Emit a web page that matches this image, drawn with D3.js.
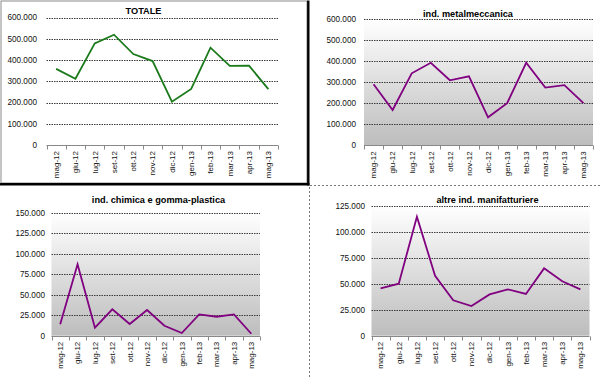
<!DOCTYPE html>
<html>
<head>
<meta charset="utf-8">
<script src="https://cdn.jsdelivr.net/npm/d3@7"></script>
<style>
  body { margin: 0; background: #fff; }
  svg { display: block; font-family: "Liberation Sans", Arial, sans-serif; }
</style>
</head>
<body>
<svg id="chart" width="600" height="377"></svg>
<script>
// Months on the x axis (same for all four charts)
var months = ["mag-12", "giu-12", "lug-12", "set-12", "ott-12", "nov-12",
              "dic-12", "gen-13", "feb-13", "mar-13", "apr-13", "mag-13"];

// Series values
var totale = [358000, 312000, 478000, 519000, 428000, 395000,
              204000, 264000, 458000, 372000, 373000, 263000];
var metalmeccanica = [290000, 168000, 342000, 392000, 309000, 328000,
                      133000, 200000, 392000, 274000, 286000, 200000];
var chimica = [13900, 87200, 9800, 32200, 14300, 31400,
               12200, 3300, 26100, 23200, 26100, 2400];
var altre = [45600, 50100, 114700, 57800, 34100, 28600,
             39800, 44700, 40200, 64900, 52400, 44700];

// Tick values of each y axis
var ticksBig = [0, 100000, 200000, 300000, 400000, 500000, 600000];
var ticksChim = [0, 25000, 50000, 75000, 100000, 125000, 150000];
var ticksAltre = [0, 25000, 50000, 75000, 100000, 125000];

var titles = ["TOTALE", "ind. metalmeccanica", "ind. chimica e gomma-plastica", "altre ind. manifatturiere"];

var svg = d3.select("#chart");

// grey gradient behind the plot areas
var grad = svg.append("defs").append("linearGradient")
    .attr("id", "bg").attr("x1", 0).attr("y1", 0).attr("x2", 0).attr("y2", 1);
grad.append("stop").attr("offset", "0%").attr("stop-color", "#ffffff");
grad.append("stop").attr("offset", "100%").attr("stop-color", "#bdbdbd");

// box around the first chart
svg.append("rect").attr("x", 1).attr("y", 1).attr("width", 306).attr("height", 182)
    .attr("fill", "none").attr("stroke", "#8a8a8a").attr("stroke-width", 1);
svg.append("line").attr("x1", 308.3).attr("x2", 308.3).attr("y1", 0.5).attr("y2", 185.5)
    .attr("stroke", "#000").attr("stroke-width", 2.4);
svg.append("line").attr("x1", 0).attr("x2", 309.5).attr("y1", 184.2).attr("y2", 184.2)
    .attr("stroke", "#000").attr("stroke-width", 2.4);

// dotted separators
svg.append("line").attr("x1", 310).attr("x2", 600).attr("y1", 185.5).attr("y2", 185.5)
    .attr("stroke", "#777").attr("stroke-dasharray", "2,2");
svg.append("line").attr("x1", 309.5).attr("x2", 309.5).attr("y1", 187).attr("y2", 377)
    .attr("stroke", "#777").attr("stroke-dasharray", "2,2");

function drawChart(opt) {
    var g = svg.append("g");
    var x = d3.scaleBand().domain(months).range([opt.left, opt.right]);
    var y = d3.scaleLinear().domain([0, opt.max]).range([opt.bottom, opt.top]);

    if (opt.fill) {
        g.append("rect")
            .attr("x", opt.left).attr("y", opt.top)
            .attr("width", opt.right - opt.left).attr("height", opt.bottom - opt.top)
            .attr("fill", "url(#bg)");
    }

    // gridlines
    g.selectAll(".grid")
        .data(opt.ticks.filter(function (d) { return d > 0; }))
        .enter().append("line")
        .attr("x1", opt.left).attr("x2", opt.right)
        .attr("y1", function (d) { return Math.round(y(d)) + 0.5; })
        .attr("y2", function (d) { return Math.round(y(d)) + 0.5; })
        .attr("stroke", "#3a3a3a").attr("stroke-width", 1)
        .attr("stroke-dasharray", "1.5,1");

    // y labels
    g.selectAll(".ylab")
        .data(opt.ticks)
        .enter().append("text")
        .attr("x", opt.labelX)
        .attr("y", function (d) { return y(d); })
        .attr("dy", "0.35em")
        .attr("text-anchor", "end")
        .attr("font-size", "8.2px")
        .attr("fill", "#111")
        .text(function (d) { return d === 0 ? "0" : d3.format(",")(d).replace(/,/g, "."); });

    // x axis line and ticks at category edges
    var ay = Math.round(opt.bottom) + 0.5;
    g.append("line").attr("x1", opt.left).attr("x2", opt.right)
        .attr("y1", ay).attr("y2", ay).attr("stroke", "#888");
    var edges = months.map(function (m) { return x(m); }).concat([opt.right]);
    g.selectAll(".tick")
        .data(edges)
        .enter().append("line")
        .attr("x1", function (d) { return Math.round(d) + 0.5; })
        .attr("x2", function (d) { return Math.round(d) + 0.5; })
        .attr("y1", ay).attr("y2", ay + 4)
        .attr("stroke", "#888");

    // x labels, rotated
    g.selectAll(".xlab")
        .data(months)
        .enter().append("text")
        .attr("transform", function (d) {
            return "translate(" + (x(d) + x.bandwidth() / 2) + "," + (opt.bottom + 6) + ") rotate(-90)";
        })
        .attr("dy", "0.35em")
        .attr("text-anchor", "end")
        .attr("font-size", "8px")
        .attr("fill", "#111")
        .text(function (d) { return d; });

    // the line
    var line = d3.line()
        .x(function (d, i) { return x(months[i]) + x.bandwidth() / 2; })
        .y(function (d) { return y(d); });
    g.append("path")
        .datum(opt.values)
        .attr("d", line)
        .attr("fill", "none")
        .attr("stroke", opt.color)
        .attr("stroke-width", 1.8)
        .attr("stroke-linejoin", "miter");

    // title
    g.append("text")
        .attr("x", opt.titleX).attr("y", opt.titleY)
        .attr("text-anchor", "middle")
        .attr("font-size", "9.2px")
        .attr("font-weight", "bold")
        .attr("fill", "#000")
        .text(opt.title);
}

drawChart({ values: totale, title: titles[0], ticks: ticksBig, max: 600000,
    left: 46.5, right: 278, top: 17.5, bottom: 145, labelX: 37,
    titleX: 143.5, titleY: 14, color: "#1b7a1b", fill: false });

drawChart({ values: metalmeccanica, title: titles[1], ticks: ticksBig, max: 600000,
    left: 364, right: 593, top: 19, bottom: 145.3, labelX: 356,
    titleX: 468, titleY: 16.5, color: "#800080", fill: true });

drawChart({ values: chimica, title: titles[2], ticks: ticksChim, max: 150000,
    left: 51.5, right: 260, top: 213, bottom: 335.7, labelX: 45,
    titleX: 158.5, titleY: 203, color: "#800080", fill: true });

drawChart({ values: altre, title: titles[3], ticks: ticksAltre, max: 125000,
    left: 371.5, right: 589.5, top: 206, bottom: 335.7, labelX: 365,
    titleX: 487.5, titleY: 203, color: "#800080", fill: true });
</script>
</body>
</html>
